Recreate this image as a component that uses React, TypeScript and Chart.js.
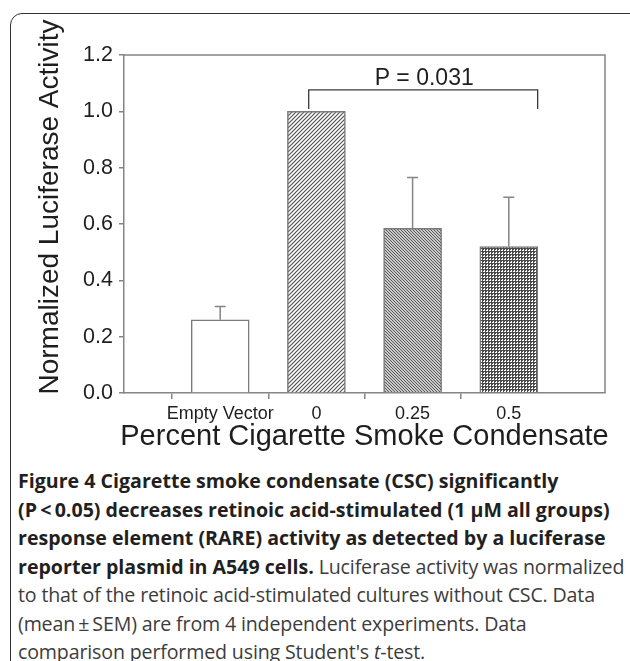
import React, { useEffect, useRef } from 'react';
import { Chart, registerables } from 'chart.js';

Chart.register(...registerables);

// ---- data ----
const categories: string[] = ['', 'Empty Vector', '0', '0.25', '0.5', ''];
const means: (number | null)[] = [null, 0.26, 1.0, 0.585, 0.52, null];
const sems: (number | null)[] = [null, 0.047, 0, 0.18, 0.175, null];
const fills: string[] = ['none', 'white', 'slash', 'backslash', 'mesh', 'none'];
const yTickValues: number[] = [0, 0.2, 0.4, 0.6, 0.8, 1.0, 1.2];
const yTitle = 'Normalized Luciferase Activity';
const xTitle = 'Percent Cigarette Smoke Condensate';
const pLabel = 'P = 0.031';
const bracketFrom = 1.92; // category index units
const bracketTo = 4.3;
const bracketTop = 1.076; // value units
const bracketLeg = 1.008;

const GRAY = '#858585';
const INK = '#1e1e1e';

function makePattern(kind: string): CanvasPattern | string {
  if (kind === 'white') return '#ffffff';
  if (kind === 'none') return 'rgba(0,0,0,0)';
  const c = document.createElement('canvas');
  const s = kind === 'slash' ? 4 : 3;
  c.width = s;
  c.height = s;
  const g = c.getContext('2d')!;
  g.fillStyle = '#ffffff';
  g.fillRect(0, 0, s, s);
  if (kind === 'mesh') {
    g.fillStyle = '#4a4a4a';
    g.fillRect(0, 2, 3, 1);
    g.fillRect(2, 0, 1, 3);
    g.fillRect(0, 0, 1, 1);
  } else {
    g.strokeStyle = '#4d4d4d';
    g.lineWidth = 1.1;
    g.beginPath();
    if (kind === 'slash') {
      g.moveTo(-1, s + 1); g.lineTo(s + 1, -1);
      g.moveTo(-1, 1); g.lineTo(1, -1);
      g.moveTo(s - 1, s + 1); g.lineTo(s + 1, s - 1);
    } else {
      g.moveTo(-1, -1); g.lineTo(s + 1, s + 1);
      g.moveTo(-1, s - 1); g.lineTo(1, s + 1);
      g.moveTo(s - 1, -1); g.lineTo(s + 1, 1);
    }
    g.stroke();
  }
  return g.createPattern(c, 'repeat')!;
}

const decorPlugin = {
  id: 'decor',
  afterDatasetsDraw(chart: any) {
    const { ctx, chartArea } = chart;
    const xs = chart.scales.x;
    const ys = chart.scales.y;
    const meta = chart.getDatasetMeta(0);
    ctx.save();
    // frame top/right
    ctx.strokeStyle = GRAY;
    ctx.lineWidth = 1.5;
    ctx.beginPath();
    ctx.moveTo(chartArea.left, chartArea.top);
    ctx.lineTo(chartArea.right, chartArea.top);
    ctx.lineTo(chartArea.right, chartArea.bottom);
    ctx.stroke();
    // error bars (upper)
    means.forEach((m, i) => {
      const e = sems[i];
      if (m == null || e == null || e <= 0) return;
      const x = meta.data[i].x;
      const y0 = ys.getPixelForValue(m);
      const y1 = ys.getPixelForValue(m + e);
      ctx.beginPath();
      ctx.moveTo(x, y0);
      ctx.lineTo(x, y1);
      ctx.moveTo(x - 5.5, y1);
      ctx.lineTo(x + 5.5, y1);
      ctx.stroke();
    });
    // significance bracket
    const bx0 = xs.getPixelForValue(bracketFrom);
    const bx1 = xs.getPixelForValue(bracketTo);
    const by = ys.getPixelForValue(bracketTop);
    const bl = ys.getPixelForValue(bracketLeg);
    ctx.strokeStyle = '#3a3a3a';
    ctx.lineWidth = 1.3;
    ctx.beginPath();
    ctx.moveTo(bx0, bl);
    ctx.lineTo(bx0, by);
    ctx.lineTo(bx1, by);
    ctx.lineTo(bx1, bl);
    ctx.stroke();
    ctx.fillStyle = INK;
    ctx.font = '23px "Liberation Sans", Arial, sans-serif';
    ctx.textAlign = 'center';
    ctx.textBaseline = 'alphabetic';
    ctx.fillText(pLabel, (bx0 + bx1) / 2 + 1, by - 5);
    // axis titles
    ctx.font = '29px "Liberation Sans", Arial, sans-serif';
    ctx.textBaseline = 'middle';
    ctx.fillText(xTitle, (chartArea.left + chartArea.right) / 2, 437);
    ctx.font = '28px "Liberation Sans", Arial, sans-serif';
    ctx.translate(50, 207);
    ctx.rotate(-Math.PI / 2);
    ctx.fillText(yTitle, 0, 0);
    ctx.restore();
  },
};

function ChartBox() {
  const ref = useRef<HTMLCanvasElement>(null);
  useEffect(() => {
    if (!ref.current) return;
    const bg = fills.map(makePattern);
    const chart = new Chart(ref.current, {
      type: 'bar',
      data: {
        labels: categories,
        datasets: [
          {
            data: means as any,
            backgroundColor: bg as any,
            borderColor: '#7a7a7a',
            borderWidth: 1.5,
            borderSkipped: 'bottom',
            barThickness: 58,
          },
        ],
      },
      plugins: [decorPlugin],
      options: {
        animation: false,
        responsive: false,
        devicePixelRatio: 1,
        layout: { padding: { left: 0, right: 25, top: 55, bottom: 0 } },
        plugins: { legend: { display: false }, tooltip: { enabled: false } },
        scales: {
          x: {
            type: 'category',
            offset: false,
            afterFit: (s: any) => { s.height = 67; },
            grid: {
              drawOnChartArea: false,
              drawTicks: true,
              tickLength: 6,
              lineWidth: 1.5,
              tickColor: (c: any) => (c.index === 0 || c.index === categories.length - 1 ? 'rgba(0,0,0,0)' : GRAY),
            },
            border: { display: true, color: GRAY, width: 1.5 },
            ticks: {
              color: INK,
              font: { family: '"Liberation Sans", Arial, sans-serif', size: 18 },
              padding: 4,
              maxRotation: 0,
              autoSkip: false,
            },
          },
          y: {
            min: 0,
            max: 1.2,
            afterFit: (s: any) => { s.width = 124; },
            afterBuildTicks: (s: any) => { s.ticks = yTickValues.map((v) => ({ value: v })); },
            grid: { drawOnChartArea: false, drawTicks: true, tickLength: 5, lineWidth: 1.5, tickColor: GRAY },
            border: { display: true, color: GRAY, width: 1.5 },
            ticks: {
              color: INK,
              font: { family: '"Liberation Sans", Arial, sans-serif', size: 21.5 },
              padding: 6,
              callback: (v: any) => Number(v).toFixed(1),
            },
          },
        },
      },
    });
    return () => chart.destroy();
  }, []);
  return (
    <canvas
      ref={ref}
      width={630}
      height={460}
      style={{ position: 'absolute', left: 0, top: 0, width: 630, height: 460 }}
    />
  );
}

const captionLines: { b?: string; r?: React.ReactNode }[] = [
  { b: 'Figure 4 Cigarette smoke condensate (CSC) significantly' },
  { b: '(P\u2009<\u20090.05) decreases retinoic acid-stimulated (1 \u03bcM all groups)' },
  { b: 'response element (RARE) activity as detected by a luciferase' },
  { b: 'reporter plasmid in A549 cells.', r: ' Luciferase activity was normalized' },
  { r: 'to that of the retinoic acid-stimulated cultures without CSC. Data' },
  { r: '(mean\u2009\u00b1\u2009SEM) are from 4 independent experiments. Data' },
  { r: <>comparison performed using Student's <i>t</i>-test.</> },
];

export default function App() {
  return (
    <div
      style={{
        position: 'absolute',
        left: 0,
        top: 0,
        width: 630,
        height: 661,
        overflow: 'hidden',
        background: '#ffffff',
      }}
    >
      <div
        style={{
          position: 'absolute',
          left: 10,
          top: 13,
          width: 700,
          height: 800,
          border: '1.3px solid #333',
          borderRadius: 12,
          boxSizing: 'border-box',
        }}
      />
      <ChartBox />
      <div
        style={{
          position: 'absolute',
          left: 18,
          top: 467,
          fontFamily: '"Open Sans", "Noto Sans", sans-serif',
          fontSize: 19.6,
          lineHeight: '28.5px',
          whiteSpace: 'nowrap',
        }}
      >
        {captionLines.map((ln, i) => (
          <div key={i}>
            {ln.b && <span style={{ fontWeight: 700, color: '#231f20' }}>{ln.b}</span>}
            {ln.r && <span style={{ fontWeight: 400, color: '#3c3c3c', letterSpacing: '-0.15px' }}>{ln.r}</span>}
          </div>
        ))}
      </div>
    </div>
  );
}
